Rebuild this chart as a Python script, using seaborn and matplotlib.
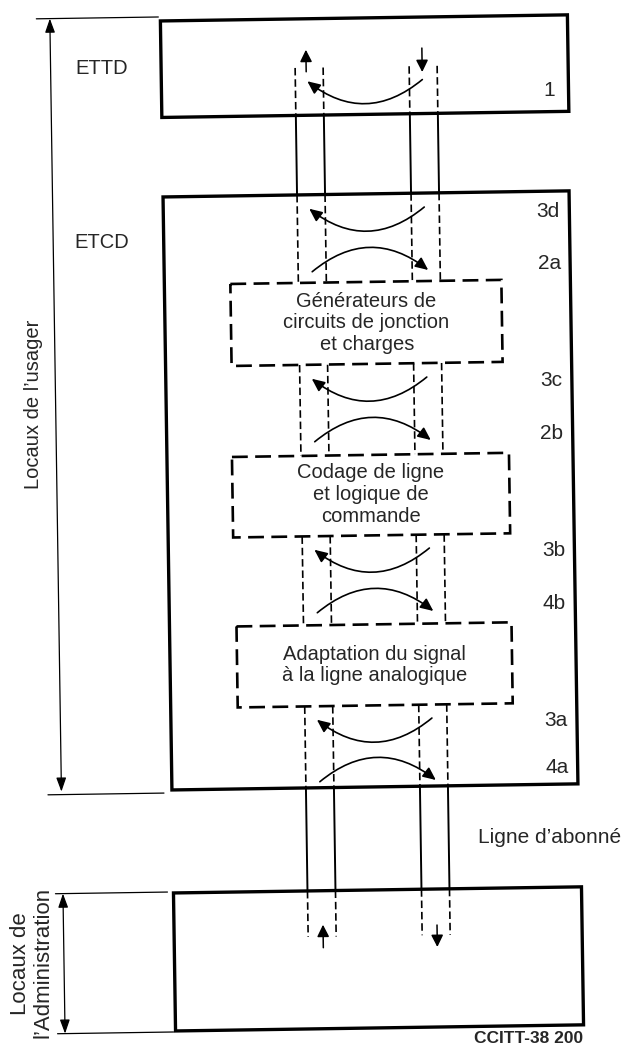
import numpy as np
import matplotlib
matplotlib.use("Agg")
import matplotlib.pyplot as plt
import matplotlib.transforms as mtransforms
from matplotlib.patches import Rectangle, FancyArrowPatch
import seaborn as sns

# --- texts of the diagram ---
station_labels = ["ETTD", "ETCD"]
block_labels = [
    ["Générateurs de", "circuits de jonction", "et charges"],
    ["Codage de ligne", "et logique de", "commande"],
    ["Adaptation du signal", "à la ligne analogique"],
]
interface_labels = ["1", "3d", "2a", "3c", "2b", "3b", "4b", "3a", "4a"]
# loop direction at each interface: "up" = back towards the DTE, "down" = towards the line
interface_dirs = ["up", "up", "down", "up", "down", "up", "down", "up", "down"]
line_label = "Ligne d\u2019abonné"
user_label = "Locaux de l\u2019usager"
admin_label = ["Locaux de", "l\u2019Administration"]
fig_code = "CCITT-38 200"

# --- layout (pixels, y downwards) ---
W, H = 626, 1048
SKEW = 0.015          # the scanned page is turned a little
wires_x = [302, 330, 416, 444]
pair_mid = [(wires_x[0] + wires_x[1]) / 2, (wires_x[2] + wires_x[3]) / 2]
outer_boxes = [(168, 18, 575, 114.5), (168, 194, 574, 787), (168, 890, 576, 1028)]
blocks = [(234, 282, 505, 364), (233, 455, 510, 535.5), (235, 624.5, 510, 705.5)]
block_lines_y = [[302, 323, 345], [473, 495, 517], [655, 676]]
iface_y = [80.5, 208, 271, 378, 441, 549, 612, 719, 781]
iface_label_y = [93, 214, 266, 383, 436, 553, 606, 723, 770]
dashed_segs = [(67, 114.5), (194, 282), (364, 455), (535.5, 624.5), (705.5, 787), (890, 936)]
solid_segs = [(114.5, 194), (787, 890)]

sns.set_theme(style="white")
plt.rcParams["font.family"] = ["Liberation Sans", "DejaVu Sans"]

fig = plt.figure(figsize=(6.26, 10.48), dpi=100)
ax = fig.add_axes([0, 0, 1, 1])
ax.set_xlim(0, W)
ax.set_ylim(H, 0)
ax.axis("off")

tr = (mtransforms.Affine2D().translate(-365, -525)
      + mtransforms.Affine2D(np.array([[1, SKEW, 0], [-SKEW, 1, 0], [0, 0, 1]]))
      + mtransforms.Affine2D().translate(365, 525)
      + ax.transData)

# outer equipment boxes
for x0, y0, x1, y1 in outer_boxes:
    ax.add_patch(Rectangle((x0, y0), x1 - x0, y1 - y0, fill=False, ec="black",
                           lw=2.4, joinstyle="miter", transform=tr))

# wires
for a, b in dashed_segs:
    for x in wires_x:
        ax.plot([x, x], [a, b], color="black", lw=1.2, ls=(0, (4.5, 2.3)), transform=tr)
for a, b in solid_segs:
    for x in wires_x:
        ax.plot([x, x], [a, b], color="black", lw=1.4, transform=tr)

# functional blocks (dashed)
for (x0, y0, x1, y1), lines, ys in zip(blocks, block_labels, block_lines_y):
    ax.add_patch(Rectangle((x0, y0), x1 - x0, y1 - y0, facecolor="white", ec="black",
                           lw=1.9, ls=(0, (6, 2.8)), transform=tr, zorder=3))
    for txt, y in zip(lines, ys):
        ax.text((x0 + x1) / 2, y, txt, ha="center", va="center", fontsize=14.5,
                transform=tr, zorder=4)

# loop-back arcs at each interface
for y0, d, lab, ly in zip(iface_y, interface_dirs, interface_labels, iface_label_y):
    if d == "up":
        pa, pb = (pair_mid[1] - 1, y0), (pair_mid[0] - 2, y0)
    else:
        pa, pb = (pair_mid[0], y0), (pair_mid[1] + 2, y0)
    ax.add_patch(FancyArrowPatch(pa, pb, connectionstyle="arc3,rad=-0.4",
                                 arrowstyle="-|>,head_length=0.55,head_width=0.25",
                                 mutation_scale=14, lw=1.2, color="black",
                                 shrinkA=0, shrinkB=0, transform=tr))
    ax.text(556 if lab == "1" else 553, ly, lab, ha="center", va="center",
            fontsize=15, transform=tr)

# straight direction arrows in DTE and exchange boxes
for (x, ya, yb) in [(313, 71, 49), (429, 49, 73), (317, 947, 924), (431, 926, 948)]:
    ax.add_patch(FancyArrowPatch((x, ya), (x, yb),
                                 arrowstyle="-|>,head_length=0.6,head_width=0.3",
                                 mutation_scale=12, lw=1.1, color="black",
                                 shrinkA=0, shrinkB=0, transform=tr))

# dimension lines on the left
for (ya, yb) in [(14, 787), (889, 1029)]:
    ax.add_patch(FancyArrowPatch((57.5, ya), (57.5, yb),
                                 arrowstyle="<|-|>,head_length=0.7,head_width=0.25",
                                 mutation_scale=12, lw=0.9, color="black",
                                 shrinkA=0, shrinkB=0, transform=tr))
for (xa, xb, y) in [(44, 166, 14), (44, 160, 790), (50, 162, 889), (50, 166, 1029)]:
    ax.plot([xa, xb], [y, y], color="black", lw=0.9, transform=tr)

# labels
ax.text(109, 65, station_labels[0], ha="center", va="center", fontsize=14.5, transform=tr)
ax.text(106, 239, station_labels[1], ha="center", va="center", fontsize=14.5, transform=tr)
ax.text(545, 840, line_label, ha="center", va="center", fontsize=15, transform=tr)
ax.text(35, 399, user_label, rotation=90, ha="center", va="center", fontsize=14.5, transform=tr)
ax.text(14, 958, admin_label[0], rotation=90, ha="center", va="center", fontsize=16, transform=tr)
ax.text(37, 958, admin_label[1], rotation=90, ha="center", va="center", fontsize=16, transform=tr)
ax.text(521, 1041, fig_code, ha="center", va="center", fontsize=12.5, fontweight="bold",
        transform=tr)

fig.savefig("out.png", dpi=100)
